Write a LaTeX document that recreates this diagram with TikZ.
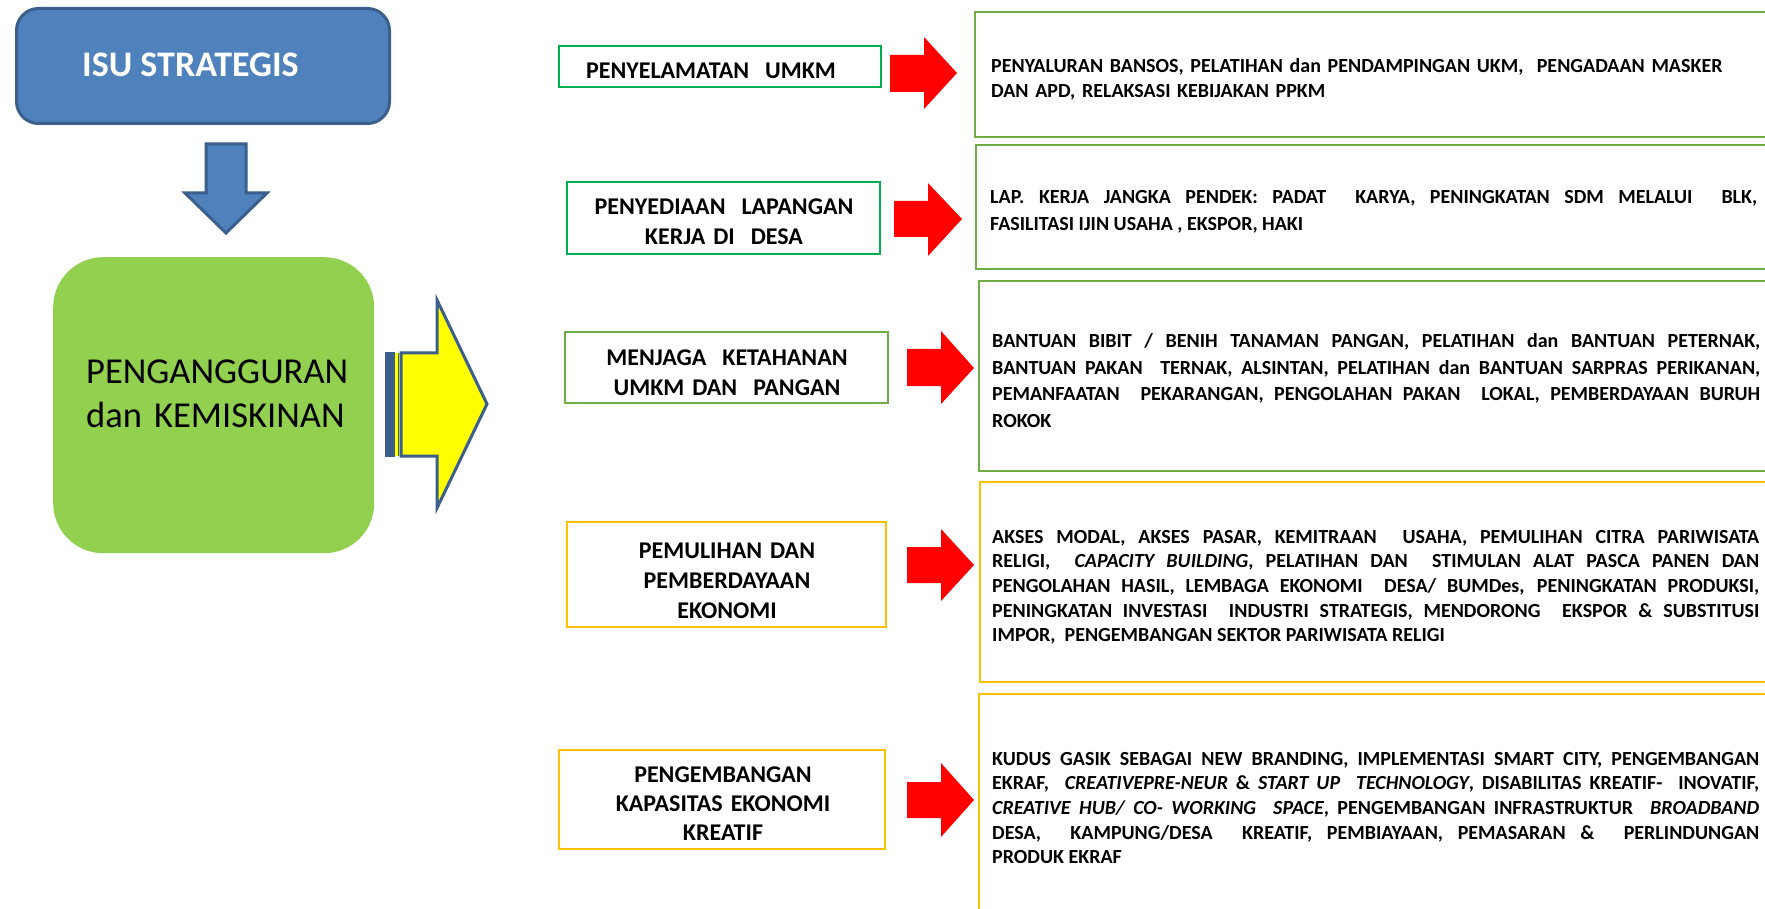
\documentclass[tikz,border=0pt]{standalone}
\usepackage{fontspec}
\setmainfont{Carlito}
\definecolor{isublue}{HTML}{4F81BD}
\definecolor{isuborder}{HTML}{3A5F8C}
\definecolor{limegreen}{HTML}{92D050}
\definecolor{brightgreen}{HTML}{00B050}
\definecolor{softgreen}{HTML}{70AD47}
\definecolor{gold}{HTML}{FFC000}
\definecolor{arrowred}{HTML}{FF0000}
\definecolor{arrowyellow}{HTML}{FFFF00}
\hyphenpenalty=10000
\tolerance=10000
\tikzset{
  midbox/.style={draw, line width=2pt, fill=white, inner sep=0pt, outer sep=0pt, anchor=north west},
  rbox/.style={draw, line width=2.5pt, fill=white, inner sep=0pt, outer sep=0pt, anchor=north west, minimum width=900pt},
  mtext/.style={inner sep=0pt, anchor=base, text width=330pt, align=center,
    font=\bfseries\fontsize{24pt}{30pt}\selectfont},
  rtext/.style={inner sep=0pt, anchor=base west, text width=767pt, align=justify,
    font=\bfseries\fontsize{20pt}{24.7pt}\selectfont},
  redarrow/.style={fill=arrowred, draw=none},
  bluearrow/.style={fill=isublue, draw=isuborder, line width=3pt, line join=miter},
}
\begin{document}
\begin{tikzpicture}[x=1pt,y=-1pt]
\clip (0,0) rectangle (1765,909);
\fill[white] (0,0) rectangle (1765,909);

% left column
\node[draw=isuborder, fill=isublue, line width=3pt, rounded corners=22pt, anchor=north west,
      minimum width=373pt, minimum height=115pt, inner sep=0pt] (isu) at (15,7) {};
\node[anchor=base west, inner sep=0pt, text=white, font=\bfseries\fontsize{36pt}{40pt}\selectfont] (isutext) at (82,77) {ISU STRATEGIS};

\draw[bluearrow] (206,144) -- (246,144) -- (246,193) -- (267,193) -- (226,233) -- (185,193) -- (206,193) -- cycle;

\node[fill=limegreen, rounded corners=50pt, anchor=north west, minimum width=321pt, minimum height=296pt, inner sep=0pt] (issue) at (53,257) {};
\node[anchor=base west, inner sep=0pt, text width=300pt, align=left, font=\fontsize{36.5pt}{44pt}\selectfont] (issuetext) at (86,383) {PENGANGGURAN\\dan KEMISKINAN};

% striped yellow arrow
\fill[arrowyellow] (394,353) rectangle (400,456);
\fill[isuborder] (385,352) rectangle (395,457);
\draw[isuborder, line width=1pt] (398,353) -- (398,456);
\draw[fill=arrowyellow, draw=isuborder, line width=3pt, line join=miter] (401,353) -- (437,353) -- (437,300) -- (487,404) -- (437,508) -- (437,456) -- (401,456) -- cycle;

% middle boxes
\node[midbox, draw=brightgreen, minimum width=322pt, minimum height=41pt] (m1) at (559,46) {};
\node[mtext] (m1t) at (711,79) {PENYELAMATAN\ \ UMKM};
\node[midbox, draw=brightgreen, minimum width=313pt, minimum height=72pt] (m2) at (567,182) {};
\node[mtext] (m2t) at (724,215) {PENYEDIAAN\ \ LAPANGAN\\KERJA DI\ \ DESA};
\node[midbox, draw=softgreen, minimum width=323pt, minimum height=71pt] (m3) at (565,332) {};
\node[mtext, font=\bfseries\fontsize{24pt}{29.5pt}\selectfont] (m3t) at (727,366) {MENJAGA\ \ KETAHANAN\\UMKM DAN\ \ PANGAN};
\node[midbox, draw=gold, minimum width=319pt, minimum height=105pt] (m4) at (567,522) {};
\node[mtext] (m4t) at (727,558) {PEMULIHAN DAN\\PEMBERDAYAAN\\EKONOMI};
\node[midbox, draw=gold, minimum width=326pt, minimum height=99pt] (m5) at (559,750) {};
\node[mtext, font=\bfseries\fontsize{24pt}{29pt}\selectfont] (m5t) at (723,782) {PENGEMBANGAN\\KAPASITAS EKONOMI\\KREATIF};

% red arrows
\draw[redarrow] (890,55) -- (924,55) -- (924,37) -- (957,73) -- (924,109) -- (924,92) -- (890,92) -- cycle;
\draw[redarrow] (894,201) -- (928,201) -- (928,183) -- (962,219) -- (928,256) -- (928,237) -- (894,237) -- cycle;
\draw[redarrow] (907,349) -- (941,349) -- (941,331) -- (974,368) -- (941,404) -- (941,386) -- (907,386) -- cycle;
\draw[redarrow] (907,547) -- (941,547) -- (941,529) -- (974,565) -- (941,601) -- (941,583) -- (907,583) -- cycle;
\draw[redarrow] (907,782) -- (941,782) -- (941,763) -- (974,800) -- (941,837) -- (941,818) -- (907,818) -- cycle;

% right boxes
\node[rbox, draw=softgreen, minimum height=125pt] (r1) at (975,12) {};
\node[rtext, align=left] (r1t) at (991,73) {PENYALURAN BANSOS, PELATIHAN dan PENDAMPINGAN UKM,\ \ PENGADAAN MASKER\\DAN APD, RELAKSASI KEBIJAKAN PPKM};
\node[rbox, draw=softgreen, minimum height=124pt] (r2) at (976,145) {};
\node[rtext, font=\bfseries\fontsize{20pt}{27pt}\selectfont] (r2t) at (990,204) {LAP. KERJA JANGKA PENDEK: PADAT\ \ KARYA, PENINGKATAN SDM MELALUI\ \ BLK,\linebreak FASILITASI IJIN USAHA , EKSPOR, HAKI};
\node[rbox, draw=softgreen, minimum height=190pt] (r3) at (979,281) {};
\node[rtext, text width=768pt, font=\bfseries\fontsize{20pt}{26.4pt}\selectfont] (r3t) at (992,348) {BANTUAN BIBIT / BENIH TANAMAN PANGAN, PELATIHAN dan BANTUAN PETERNAK,\linebreak BANTUAN PAKAN\ \ TERNAK, ALSINTAN, PELATIHAN dan BANTUAN SARPRAS PERIKANAN,\linebreak PEMANFAATAN\ \ PEKARANGAN, PENGOLAHAN PAKAN\ \ LOKAL, PEMBERDAYAAN BURUH\linebreak ROKOK};
\node[rbox, draw=gold, minimum height=200pt] (r4) at (980,482) {};
\node[rtext] (r4t) at (992,543) {AKSES MODAL, AKSES PASAR, KEMITRAAN\ \ USAHA, PEMULIHAN CITRA PARIWISATA\linebreak RELIGI,\ \ \textit{CAPACITY BUILDING}, PELATIHAN DAN\ \ STIMULAN ALAT PASCA PANEN DAN\linebreak PENGOLAHAN HASIL, LEMBAGA EKONOMI\ \ DESA/ BUMDes, PENINGKATAN PRODUKSI,\linebreak PENINGKATAN INVESTASI\ \ INDUSTRI STRATEGIS, MENDORONG\ \ EKSPOR \& SUBSTITUSI\linebreak IMPOR,\ \ PENGEMBANGAN SEKTOR PARIWISATA RELIGI};
\node[rbox, draw=gold, minimum height=260pt] (r5) at (979,694) {};
\node[rtext] (r5t) at (992,765) {KUDUS GASIK SEBAGAI NEW BRANDING, IMPLEMENTASI SMART CITY, PENGEMBANGAN\linebreak EKRAF,\ \ \textit{CREATIVEPRE-NEUR} \& \textit{START UP\ \ TECHNOLOGY}, DISABILITAS KREATIF-\ \ INOVATIF,\linebreak \textit{CREATIVE HUB/ CO- WORKING\ \ SPACE}, PENGEMBANGAN INFRASTRUKTUR\ \ \textit{BROADBAND}\linebreak DESA,\ \ KAMPUNG/DESA\ \ KREATIF, PEMBIAYAAN, PEMASARAN \&\ \ PERLINDUNGAN\linebreak PRODUK EKRAF};
\end{tikzpicture}
\end{document}
